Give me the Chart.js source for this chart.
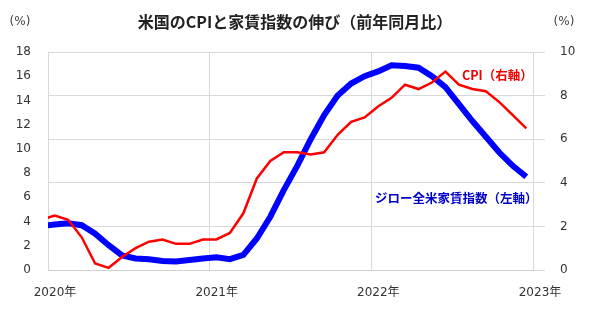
<!DOCTYPE html>
<html>
<head>
<meta charset="utf-8">
<script src="https://cdn.jsdelivr.net/npm/chart.js@4"></script>
<style>
  html, body { margin: 0; padding: 0; background: #fff; }
  #wrap { width: 600px; height: 313px; }
</style>
</head>
<body>
<div id="wrap"><canvas id="c" width="600" height="313"></canvas></div>
<script>
// Months, Dec 2019 .. Dec 2022 (first one falls just outside the plot and gets clipped)
const months = [
  '2019-12',
  '2020-01', '2020-02', '2020-03', '2020-04', '2020-05', '2020-06',
  '2020-07', '2020-08', '2020-09', '2020-10', '2020-11', '2020-12',
  '2021-01', '2021-02', '2021-03', '2021-04', '2021-05', '2021-06',
  '2021-07', '2021-08', '2021-09', '2021-10', '2021-11', '2021-12',
  '2022-01', '2022-02', '2022-03', '2022-04', '2022-05', '2022-06',
  '2022-07', '2022-08', '2022-09', '2022-10', '2022-11', '2022-12',
];

// CPI, y/y % (right axis)
const cpi = [
  2.3,
  2.5, 2.3, 1.5, 0.3, 0.1, 0.6, 1.0, 1.3, 1.4, 1.2, 1.2, 1.4,
  1.4, 1.7, 2.6, 4.2, 5.0, 5.4, 5.4, 5.3, 5.4, 6.2, 6.8, 7.0,
  7.5, 7.9, 8.5, 8.3, 8.6, 9.1, 8.5, 8.3, 8.2, 7.7, 7.1, 6.5,
];

// Zillow observed rent index, y/y % (left axis)
const zillow = [
  3.65,
  3.75, 3.85, 3.7, 3.0, 2.05, 1.2, 0.95, 0.88, 0.75, 0.7, 0.82, 0.95,
  1.05, 0.9, 1.25, 2.6, 4.4, 6.6, 8.6, 10.8, 12.8, 14.4, 15.4, 16.0,
  16.4, 16.9, 16.85, 16.7, 16.0, 15.1, 13.7, 12.3, 11.0, 9.7, 8.6, 7.7,
];

const yearLabels = ['2020年', '2021年', '2022年', '2023年'];

const leftTicks = [0, 2, 4, 6, 8, 10, 12, 14, 16, 18];
const rightTicks = [0, 2, 4, 6, 8, 10];

const FONT = '"DejaVu Sans", "Noto Sans CJK JP", sans-serif';
const CJK = '"Noto Sans CJK JP", "DejaVu Sans", sans-serif';

// month index relative to Jan 2020
const toPoints = (arr) => arr.map((v, i) => ({ x: i - 1, y: v }));

// extra texts: title, unit labels, series labels
const textPlugin = {
  id: 'texts',
  afterDraw(chart) {
    const ctx = chart.ctx;
    ctx.save();
    ctx.textBaseline = 'middle';

    ctx.fillStyle = '#222';
    ctx.font = 'bold 16px ' + CJK;
    ctx.textAlign = 'center';
    ctx.fillText('米国のCPIと家賃指数の伸び（前年同月比）', 295, 22);

    ctx.fillStyle = '#444';
    ctx.font = '12px ' + FONT;
    ctx.fillText('(%)', 20, 22);
    ctx.fillText('(%)', 564, 22);

    ctx.textAlign = 'left';
    ctx.font = 'bold 12.5px ' + CJK;
    ctx.fillStyle = '#ee0000';
    ctx.fillText('CPI（右軸）', 462, 75);
    ctx.fillStyle = '#0000cc';
    ctx.fillText('ジロー全米家賃指数（左軸）', 375, 198);
    ctx.restore();
  },
};

new Chart(document.getElementById('c'), {
  type: 'line',
  data: {
    datasets: [
      {
        label: 'ジロー全米家賃指数（左軸）',
        data: toPoints(zillow),
        yAxisID: 'yL',
        borderColor: '#0000ff',
        borderWidth: 6,
        pointRadius: 0,
        tension: 0,
        clip: 0,
        order: 1,
      },
      {
        label: 'CPI（右軸）',
        data: toPoints(cpi),
        yAxisID: 'yR',
        borderColor: '#ff0000',
        borderWidth: 2.5,
        pointRadius: 0,
        tension: 0,
        clip: 0,
        order: 0,
      },
    ],
  },
  options: {
    responsive: false,
    animation: false,
    layout: { padding: { top: 52, left: 0, right: 0, bottom: 0 } },
    plugins: {
      legend: { display: false },
      tooltip: { enabled: false },
    },
    scales: {
      x: {
        type: 'linear',
        min: -0.5,
        max: 35.5,
        afterBuildTicks: (scale) => {
          scale.ticks = yearLabels.map((t, k) => ({ value: 12 * k - 0.5 }));
        },
        afterFit: (scale) => { scale.height = 43; },
        ticks: {
          callback: (v, i) => yearLabels[i],
          font: { family: FONT, size: 12 },
          color: '#333',
          padding: 16,
          labelOffset: 7,
          maxRotation: 0,
          autoSkip: false,
        },
        grid: { color: '#d9d9d9', drawTicks: false, lineWidth: 1 },
        border: { display: true, color: '#d0d0d0' },
      },
      yL: {
        position: 'left',
        min: 0,
        max: 18,
        afterBuildTicks: (scale) => {
          scale.ticks = leftTicks.map((v) => ({ value: v }));
        },
        afterFit: (scale) => { scale.width = 48; },
        ticks: {
          font: { family: FONT, size: 12 },
          color: '#333',
          padding: 17,
        },
        grid: { display: false, drawTicks: false },
        border: { display: false },
      },
      yR: {
        position: 'right',
        min: 0,
        max: 10,
        afterBuildTicks: (scale) => {
          scale.ticks = rightTicks.map((v) => ({ value: v }));
        },
        afterFit: (scale) => { scale.width = 67; },
        ticks: {
          font: { family: FONT, size: 12 },
          color: '#333',
          padding: 15,
        },
        grid: { color: '#d9d9d9', drawTicks: true, tickLength: 12, lineWidth: 1 },
        border: { display: false },
      },
    },
  },
  plugins: [textPlugin],
});
</script>
</body>
</html>
